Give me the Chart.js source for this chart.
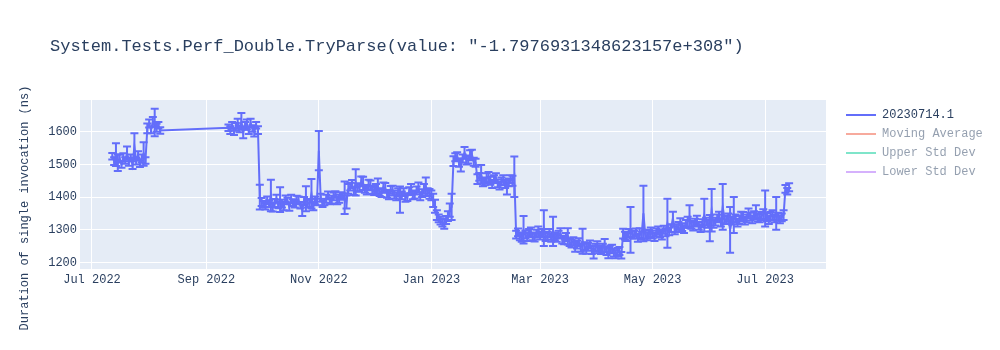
<!DOCTYPE html>
<html>
<head>
<meta charset="utf-8">
<script src="https://cdn.jsdelivr.net/npm/chart.js@4"></script>
<style>
  body { margin: 0; background: #fff; }
</style>
</head>
<body>
<canvas id="perfChart" width="1000" height="350"></canvas>
<script>
// run dates, mean duration (ns) and std dev
const dates = [
  "2022-07-12","2022-07-13","2022-07-14","2022-07-15","2022-07-16","2022-07-17","2022-07-18","2022-07-19",
  "2022-07-20","2022-07-21","2022-07-22","2022-07-23","2022-07-24","2022-07-25","2022-07-26","2022-07-27",
  "2022-07-28","2022-07-29","2022-07-30","2022-07-31","2022-08-01","2022-08-02","2022-08-03","2022-08-04",
  "2022-08-05","2022-08-06","2022-08-07",
  "2022-09-13","2022-09-14","2022-09-15","2022-09-16","2022-09-17","2022-09-18","2022-09-19","2022-09-20",
  "2022-09-21","2022-09-22","2022-09-23","2022-09-24","2022-09-25","2022-09-26","2022-09-27","2022-09-28",
  "2022-09-29","2022-09-30",
  "2022-10-01","2022-10-02","2022-10-03","2022-10-04","2022-10-05","2022-10-06","2022-10-07","2022-10-08","2022-10-09","2022-10-10",
  "2022-10-11","2022-10-12","2022-10-13","2022-10-14","2022-10-15","2022-10-16","2022-10-17","2022-10-18","2022-10-19","2022-10-20",
  "2022-10-21","2022-10-22","2022-10-23","2022-10-24","2022-10-25","2022-10-26","2022-10-27","2022-10-28","2022-10-29","2022-10-30","2022-10-31",
  "2022-11-01","2022-11-02","2022-11-03","2022-11-04","2022-11-05","2022-11-06","2022-11-07","2022-11-08","2022-11-09","2022-11-10",
  "2022-11-11","2022-11-12","2022-11-13","2022-11-14","2022-11-15","2022-11-16","2022-11-17","2022-11-18","2022-11-19","2022-11-20",
  "2022-11-21","2022-11-22","2022-11-23","2022-11-24","2022-11-25","2022-11-26","2022-11-27","2022-11-28","2022-11-29","2022-11-30",
  "2022-12-01","2022-12-02","2022-12-03","2022-12-04","2022-12-05","2022-12-06","2022-12-07","2022-12-08","2022-12-09","2022-12-10",
  "2022-12-11","2022-12-12","2022-12-13","2022-12-14","2022-12-15","2022-12-16","2022-12-17","2022-12-18","2022-12-19","2022-12-20",
  "2022-12-21","2022-12-22","2022-12-23","2022-12-24","2022-12-25","2022-12-26","2022-12-27","2022-12-28","2022-12-29","2022-12-30","2022-12-31",
  "2023-01-01","2023-01-02","2023-01-03","2023-01-04","2023-01-05","2023-01-06","2023-01-07","2023-01-08","2023-01-09","2023-01-10",
  "2023-01-11","2023-01-12","2023-01-13","2023-01-14","2023-01-15","2023-01-16","2023-01-17","2023-01-18","2023-01-19","2023-01-20",
  "2023-01-21","2023-01-22","2023-01-23","2023-01-24","2023-01-25","2023-01-26","2023-01-27","2023-01-28","2023-01-29","2023-01-30","2023-01-31",
  "2023-02-01","2023-02-02","2023-02-03","2023-02-04","2023-02-05","2023-02-06","2023-02-07","2023-02-08","2023-02-09","2023-02-10",
  "2023-02-11","2023-02-12","2023-02-13","2023-02-14","2023-02-15","2023-02-16","2023-02-17","2023-02-18","2023-02-19","2023-02-20",
  "2023-02-21","2023-02-22","2023-02-23","2023-02-24","2023-02-25","2023-02-26","2023-02-27","2023-02-28",
  "2023-03-01","2023-03-02","2023-03-03","2023-03-04","2023-03-05","2023-03-06","2023-03-07","2023-03-08","2023-03-09","2023-03-10",
  "2023-03-11","2023-03-12","2023-03-13","2023-03-14","2023-03-15","2023-03-16","2023-03-17","2023-03-18","2023-03-19","2023-03-20",
  "2023-03-21","2023-03-22","2023-03-23","2023-03-24","2023-03-25","2023-03-26","2023-03-27","2023-03-28","2023-03-29","2023-03-30","2023-03-31",
  "2023-04-01","2023-04-02","2023-04-03","2023-04-04","2023-04-05","2023-04-06","2023-04-07","2023-04-08","2023-04-09","2023-04-10",
  "2023-04-11","2023-04-12","2023-04-13","2023-04-14","2023-04-15","2023-04-16","2023-04-17","2023-04-18","2023-04-19","2023-04-20",
  "2023-04-21","2023-04-22","2023-04-23","2023-04-24","2023-04-25","2023-04-26","2023-04-27","2023-04-28","2023-04-29","2023-04-30",
  "2023-05-01","2023-05-02","2023-05-03","2023-05-04","2023-05-05","2023-05-06","2023-05-07","2023-05-08","2023-05-09","2023-05-10",
  "2023-05-11","2023-05-12","2023-05-13","2023-05-14","2023-05-15","2023-05-16","2023-05-17","2023-05-18","2023-05-19","2023-05-20",
  "2023-05-21","2023-05-22","2023-05-23","2023-05-24","2023-05-25","2023-05-26","2023-05-27","2023-05-28","2023-05-29","2023-05-30","2023-05-31",
  "2023-06-01","2023-06-02","2023-06-03","2023-06-04","2023-06-05","2023-06-06","2023-06-07","2023-06-08","2023-06-09","2023-06-10",
  "2023-06-11","2023-06-12","2023-06-13","2023-06-14","2023-06-15","2023-06-16","2023-06-17","2023-06-18","2023-06-19","2023-06-20",
  "2023-06-21","2023-06-22","2023-06-23","2023-06-24","2023-06-25","2023-06-26","2023-06-27","2023-06-28","2023-06-29","2023-06-30",
  "2023-07-01","2023-07-02","2023-07-03","2023-07-04","2023-07-05","2023-07-06","2023-07-07","2023-07-08","2023-07-09","2023-07-10",
  "2023-07-11","2023-07-12","2023-07-13","2023-07-14"
];
const durations = [
  1525,1510,1530,1505,1518,1500,1522,1512,
  1535,1508,1520,1498,1555,1510,1528,1502,
  1518,1532,1512,1610,1625,1605,1630,1628,
  1612,1620,1604,
  1612,1605,1620,1600,1615,1625,1608,1632,
  1598,1618,1622,1603,1628,1610,1600,1620,
  1605,1400,
  1385,1378,1372,1390,1380,1405,1368,1382,1395,1376,
  1392,1380,1372,1395,1388,1370,1395,1383,1378,1392,
  1390,1375,1360,1388,1395,1380,1382,1410,1372,1390,1385,
  1542,1398,1380,1385,1395,1405,1388,1392,1402,1408,
  1390,1395,1405,1402,1398,1385,1425,1432,1440,1418,
  1445,1430,1428,1448,1442,1425,1420,1438,1436,1422,
  1418,1425,1432,1415,1412,1430,1428,1410,1405,1422,
  1420,1408,1402,1415,1392,1405,1415,1398,1400,1418,
  1425,1405,1408,1420,1430,1402,1412,1425,1432,1415,1410,
  1405,1390,1372,1345,1335,1328,1322,1318,1330,1342,
  1360,1370,1510,1522,1525,1505,1498,1518,1535,1512,
  1515,1528,1530,1508,1505,1455,1462,1470,1445,1448,1458,
  1462,1450,1440,1455,1458,1442,1435,1448,1452,1440,
  1430,1445,1455,1450,1462,1285,1292,1280,1275,1300,
  1285,1278,1290,1292,1280,1276,1288,1295,
  1282,1290,1305,1278,1282,1290,1275,1295,1280,1275,
  1285,1290,1270,1268,1278,1280,1262,1258,1265,1248,
  1255,1262,1245,1265,1250,1242,1248,1255,1238,1232,1245,
  1250,1240,1238,1245,1252,1235,1228,1240,1242,1230,
  1225,1232,1235,1222,1288,1282,1278,1290,1300,1285,
  1285,1292,1275,1290,1282,1350,1285,1280,1288,1292,
  1285,1278,1292,1298,1288,1285,1300,1292,1320,1295,
  1305,1335,1298,1305,1312,1320,1308,1302,1318,1325,
  1340,1315,1310,1322,1328,1312,1305,1320,1345,1325,1318,
  1305,1360,1318,1325,1335,1340,1322,1370,1332,1330,
  1338,1300,1328,1345,1335,1322,1330,1340,1342,1328,
  1335,1350,1340,1332,1345,1355,1338,1335,1342,1348,
  1365,1338,1330,1342,1345,1335,1350,1340,1332,1338,
  1345,1425,1418,1430
];
const errors = [
  10,12,35,25,12,10,12,10,
  20,12,10,12,40,10,12,10,
  12,36,10,15,12,10,15,42,
  12,10,10,
  10,12,10,10,12,15,10,25,
  18,12,15,10,12,10,15,10,
  12,38,
  12,10,10,12,10,48,12,12,12,10,
  38,12,12,10,10,12,12,10,10,12,
  12,10,18,12,38,12,12,45,12,12,10,
  60,12,10,10,12,12,10,12,12,10,
  12,12,10,10,50,20,15,12,12,12,
  40,12,12,15,20,12,12,15,15,12,
  12,15,25,12,12,15,15,12,12,12,
  15,12,12,12,40,12,12,12,12,12,
  15,12,12,12,15,12,12,15,28,12,15,
  15,20,20,15,12,12,12,15,12,15,
  20,40,15,12,12,12,20,12,18,12,
  12,15,15,12,12,15,12,28,12,12,15,
  15,12,12,12,15,12,12,12,15,12,
  22,12,12,15,62,12,12,12,12,42,
  12,12,12,15,12,12,12,15,
  12,12,55,12,12,12,12,45,12,12,
  12,15,12,12,12,25,12,12,12,15,
  12,12,12,38,12,15,12,12,12,20,12,
  15,12,12,12,20,12,15,12,12,12,
  12,12,12,10,15,12,12,12,70,12,
  12,12,12,15,12,85,12,12,12,15,
  12,12,12,12,12,15,12,12,75,12,
  12,20,12,12,12,15,12,12,12,15,
  35,12,12,12,15,12,12,12,50,12,12,
  40,65,12,12,12,15,12,70,12,12,
  12,70,12,55,12,12,12,15,12,12,
  12,15,12,12,12,20,12,12,12,15,
  55,12,12,12,15,12,50,12,12,12,
  15,12,10,12
];
const xTickDates = ["2022-07-01","2022-09-01","2022-11-01","2023-01-01","2023-03-01","2023-05-01","2023-07-01"];
const yTicks = [1200, 1300, 1400, 1500, 1600];
const monthNames = ["Jan","Feb","Mar","Apr","May","Jun","Jul","Aug","Sep","Oct","Nov","Dec"];

const FONT = '"Courier New", "Liberation Mono", monospace';
const TEXT = "#2a3f5f";
const toTs = s => Date.parse(s + "T00:00:00Z");

const points = dates.map((d, i) => ({ x: toTs(d), y: durations[i] }));

// plot background + chart title + y axis title + legend
const plotlyLook = {
  id: "plotlyLook",
  beforeDraw(chart) {
    const { ctx, chartArea: a } = chart;
    ctx.save();
    ctx.fillStyle = "#fff";
    ctx.fillRect(0, 0, chart.width, chart.height);
    ctx.fillStyle = "#E5ECF6";
    ctx.fillRect(a.left, a.top, a.width, a.height);
    ctx.restore();
  },
  afterDraw(chart) {
    const ctx = chart.ctx;
    ctx.save();
    ctx.fillStyle = TEXT;
    ctx.textBaseline = "middle";
    ctx.font = "17px " + FONT;
    ctx.fillText('System.Tests.Perf_Double.TryParse(value: "-1.7976931348623157e+308")', 50, 46);

    ctx.font = "12px " + FONT;
    ctx.save();
    ctx.translate(25, 208);
    ctx.rotate(-Math.PI / 2);
    ctx.textAlign = "center";
    ctx.fillText("Duration of single invocation (ns)", 0, 0);
    ctx.restore();

    chart.data.datasets.forEach((ds, i) => {
      const y = 115 + i * 19;
      ctx.globalAlpha = i > 0 ? 0.5 : 1;
      ctx.strokeStyle = ds.borderColor;
      ctx.lineWidth = 2;
      ctx.beginPath();
      ctx.moveTo(846, y);
      ctx.lineTo(876, y);
      ctx.stroke();
      ctx.fillStyle = TEXT;
      ctx.fillText(ds.label, 882, y);
    });
    ctx.restore();
  }
};

// symmetric error bars drawn through the chart's own scales
const errorBars = {
  id: "errorBars",
  beforeDatasetsDraw(chart) {
    const { ctx, chartArea: a, scales } = chart;
    const meta = chart.getDatasetMeta(0);
    ctx.save();
    ctx.beginPath();
    ctx.rect(a.left, a.top, a.width, a.height);
    ctx.clip();
    ctx.strokeStyle = "#636efa";
    ctx.lineWidth = 2;
    meta.data.forEach((pt, i) => {
      const top = scales.y.getPixelForValue(durations[i] + errors[i]);
      const bot = scales.y.getPixelForValue(durations[i] - errors[i]);
      ctx.beginPath();
      ctx.moveTo(pt.x, top);
      ctx.lineTo(pt.x, bot);
      ctx.moveTo(pt.x - 4, top);
      ctx.lineTo(pt.x + 4, top);
      ctx.moveTo(pt.x - 4, bot);
      ctx.lineTo(pt.x + 4, bot);
      ctx.stroke();
    });
    ctx.restore();
  }
};

new Chart(document.getElementById("perfChart"), {
  type: "line",
  data: {
    datasets: [
      { label: "20230714.1", data: points, borderColor: "#636efa", borderWidth: 2, pointRadius: 0, tension: 0 },
      { label: "Moving Average", data: [], borderColor: "#EF553B", hidden: true },
      { label: "Upper Std Dev", data: [], borderColor: "#00cc96", hidden: true },
      { label: "Lower Std Dev", data: [], borderColor: "#ab63fa", hidden: true }
    ]
  },
  options: {
    responsive: false,
    animation: false,
    layout: { padding: { top: 100, right: 174, bottom: 0, left: 0 } },
    plugins: {
      legend: { display: false },
      tooltip: { enabled: false }
    },
    scales: {
      x: {
        type: "linear",
        min: Date.UTC(2022, 5, 24, 12),
        max: Date.UTC(2023, 7, 3),
        afterBuildTicks: s => { s.ticks = xTickDates.map(d => ({ value: toTs(d) })); },
        afterFit: s => { s.height = 81; },
        border: { display: false },
        grid: { color: "#fff", lineWidth: 1, drawTicks: false },
        ticks: {
          padding: 4,
          color: TEXT,
          font: { family: FONT, size: 12 },
          maxRotation: 0,
          autoSkip: false,
          callback: v => { const d = new Date(v); return monthNames[d.getUTCMonth()] + " " + d.getUTCFullYear(); }
        }
      },
      y: {
        min: 1180,
        max: 1697,
        afterBuildTicks: s => { s.ticks = yTicks.map(v => ({ value: v })); },
        afterFit: s => { s.width = 80; },
        border: { display: false },
        grid: { color: "#fff", lineWidth: 1, drawTicks: false },
        ticks: { padding: 3, color: TEXT, font: { family: FONT, size: 12 }, callback: v => String(v) }
      }
    }
  },
  plugins: [plotlyLook, errorBars]
});
</script>
</body>
</html>
